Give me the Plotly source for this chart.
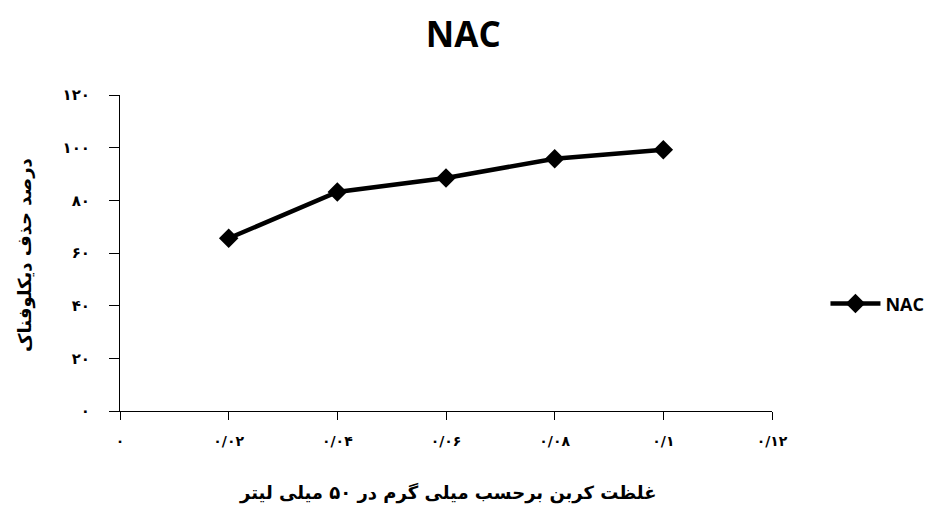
import plotly.graph_objects as go

# Data
x_values = [0.02, 0.04, 0.06, 0.08, 0.10]
nac_values = [65.6, 83.2, 88.5, 95.8, 99.2]
series_name = "NAC"

x_tickvals = [0, 0.02, 0.04, 0.06, 0.08, 0.10, 0.12]
x_ticktext = ["۰", "۰/۰۲", "۰/۰۴", "۰/۰۶", "۰/۰۸", "۰/۱", "۰/۱۲"]
y_tickvals = [0, 20, 40, 60, 80, 100, 120]
y_ticktext = ["۰", "۲۰", "۴۰", "۶۰", "۸۰", "۱۰۰", "۱۲۰"]

title_text = "NAC"
x_title = "غلظت کربن برحسب میلی گرم در ۵۰ میلی لیتر"
y_title = "درصد حذف دیکلوفناک"

FONT = "DejaVu Sans"

fig = go.Figure()
fig.add_trace(go.Scatter(
    x=x_values, y=nac_values, name=series_name,
    mode="lines+markers",
    line=dict(color="black", width=4.5),
    marker=dict(symbol="diamond", size=15, color="black"),
))

fig.update_layout(
    width=934, height=508,
    margin=dict(l=120, r=162, t=95, b=97, autoexpand=False),
    paper_bgcolor="white", plot_bgcolor="white",
    title=dict(text="<b>" + title_text + "</b>", x=0.496, xanchor="center",
               y=1 - 35 / 508, yanchor="middle",
               font=dict(family="Open Sans", size=35, color="black")),
    showlegend=True,
    legend=dict(x=1.082, xanchor="left", y=0.339, yanchor="middle",
                font=dict(family="Open Sans", size=18, color="black", weight="bold"),
                bgcolor="rgba(0,0,0,0)", itemwidth=50),
    font=dict(family=FONT, color="black"),
    annotations=[
        dict(text="<b>" + x_title + "</b>", xref="paper", yref="paper",
             x=0.503, y=0, xanchor="center", yanchor="middle", yshift=-82,
             showarrow=False, font=dict(family=FONT, size=18, color="black")),
        dict(text="<b>" + y_title + "</b>", xref="paper", yref="paper",
             x=0, y=0.494, xanchor="center", yanchor="middle", xshift=-95,
             textangle=-90, showarrow=False,
             font=dict(family=FONT, size=18, color="black")),
    ],
)

fig.update_xaxes(
    range=[0, 0.12], tickvals=x_tickvals, ticktext=x_ticktext,
    showgrid=False, zeroline=False, showline=True, linecolor="black", linewidth=1,
    ticks="outside", ticklen=8, tickcolor="black", tickwidth=1,
    tickfont=dict(family=FONT, size=14, color="black", weight="bold"),
    ticklabelstandoff=9,
    automargin=False,
)
fig.update_yaxes(
    range=[0, 120], tickvals=y_tickvals, ticktext=y_ticktext,
    showgrid=False, zeroline=False, showline=True, linecolor="black", linewidth=1,
    ticks="outside", ticklen=10, tickcolor="black", tickwidth=1,
    tickfont=dict(family=FONT, size=15, color="black", weight="bold"),
    ticklabelstandoff=16,
    automargin=False,
)

fig.write_html("out.html", config={"displayModeBar": False},
               post_script="document.body.style.margin='0';")
